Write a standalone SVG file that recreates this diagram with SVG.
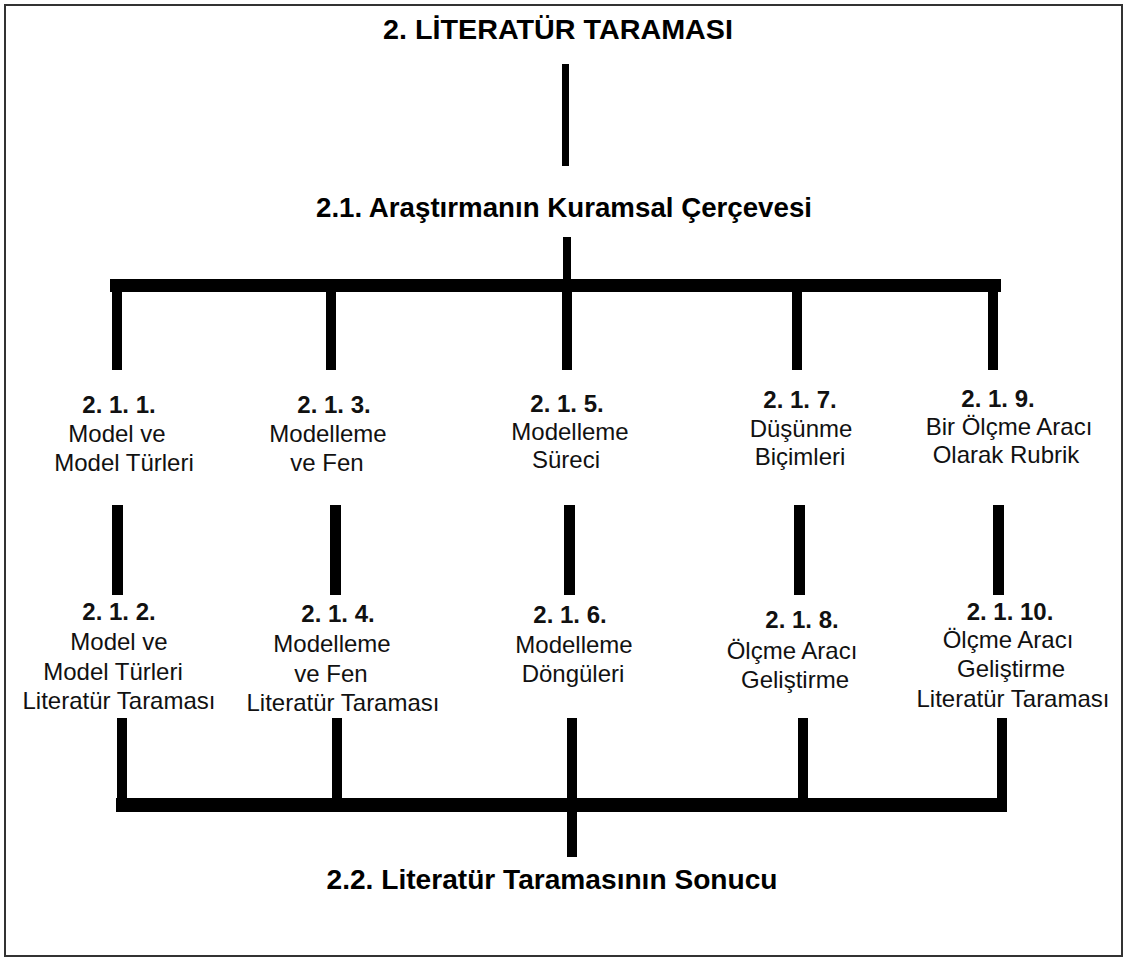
<svg xmlns="http://www.w3.org/2000/svg" width="1127" height="961" viewBox="0 0 1127 961">
  <style>
    .head { font-family: "Liberation Sans", Arial, sans-serif; font-weight: bold; font-size: 28px; fill: #000; text-anchor: middle; }
    .num { font-family: "Liberation Sans", Arial, sans-serif; font-weight: bold; font-size: 24px; fill: #111; text-anchor: middle; }
    .lbl { font-family: "Liberation Sans", Arial, sans-serif; font-size: 24px; fill: #111; text-anchor: middle; }
    .bar { fill: #000; }
  </style>
  <rect x="0" y="0" width="1127" height="961" fill="#fff"/>
  <rect x="5" y="5" width="1117" height="951" fill="none" stroke="#333" stroke-width="2"/>

  <g id="connectors">
    <!-- trunk under the chapter title -->
    <rect class="bar" x="562" y="64" width="7" height="102"/>
    <!-- fan-out from 2.1 to the five topics -->
    <rect class="bar" x="563" y="237" width="8" height="50"/>
    <rect class="bar" x="110" y="279" width="891" height="13"/>
    <rect class="bar" x="112" y="285" width="10" height="85"/>
    <rect class="bar" x="326" y="285" width="10" height="85"/>
    <rect class="bar" x="562" y="285" width="10" height="85"/>
    <rect class="bar" x="792" y="285" width="10" height="85"/>
    <rect class="bar" x="988" y="285" width="10" height="85"/>
    <!-- topic to sub-topic links -->
    <rect class="bar" x="112" y="505" width="11" height="90"/>
    <rect class="bar" x="330" y="505" width="11" height="90"/>
    <rect class="bar" x="564" y="505" width="11" height="90"/>
    <rect class="bar" x="794" y="505" width="11" height="90"/>
    <rect class="bar" x="993" y="505" width="11" height="90"/>
    <!-- merge into 2.2 -->
    <rect class="bar" x="117" y="718" width="10" height="90"/>
    <rect class="bar" x="332" y="718" width="10" height="90"/>
    <rect class="bar" x="567" y="718" width="10" height="90"/>
    <rect class="bar" x="798" y="718" width="10" height="90"/>
    <rect class="bar" x="997" y="718" width="10" height="90"/>
    <rect class="bar" x="116" y="798" width="891" height="14"/>
    <rect class="bar" x="567" y="805" width="10" height="52"/>
  </g>

  <g id="n-root"><text class="head" x="558" y="39" textLength="350" lengthAdjust="spacingAndGlyphs">2. LİTERATÜR TARAMASI</text></g>
  <g id="n-2-1"><text class="head" x="564" y="217" textLength="496" lengthAdjust="spacingAndGlyphs">2.1. Araştırmanın Kuramsal Çerçevesi</text></g>

  <g id="n-2-1-1">
    <text class="num" x="119" y="413">2. 1. 1.</text>
    <text class="lbl" x="117" y="442">Model ve</text>
    <text class="lbl" x="124" y="471">Model Türleri</text>
  </g>
  <g id="n-2-1-3">
    <text class="num" x="334" y="413">2. 1. 3.</text>
    <text class="lbl" x="328" y="442">Modelleme</text>
    <text class="lbl" x="327" y="471">ve Fen</text>
  </g>
  <g id="n-2-1-5">
    <text class="num" x="567" y="412">2. 1. 5.</text>
    <text class="lbl" x="570" y="440">Modelleme</text>
    <text class="lbl" x="566" y="468">Süreci</text>
  </g>
  <g id="n-2-1-7">
    <text class="num" x="800" y="408">2. 1. 7.</text>
    <text class="lbl" x="801" y="437">Düşünme</text>
    <text class="lbl" x="800" y="465">Biçimleri</text>
  </g>
  <g id="n-2-1-9">
    <text class="num" x="998" y="407">2. 1. 9.</text>
    <text class="lbl" x="1009" y="435">Bir Ölçme Aracı</text>
    <text class="lbl" x="1006" y="463">Olarak Rubrik</text>
  </g>

  <g id="n-2-1-2">
    <text class="num" x="119" y="620">2. 1. 2.</text>
    <text class="lbl" x="119" y="650">Model ve</text>
    <text class="lbl" x="113" y="680">Model Türleri</text>
    <text class="lbl" x="119" y="709">Literatür Taraması</text>
  </g>
  <g id="n-2-1-4">
    <text class="num" x="338" y="622">2. 1. 4.</text>
    <text class="lbl" x="332" y="652">Modelleme</text>
    <text class="lbl" x="331" y="682">ve Fen</text>
    <text class="lbl" x="343" y="711">Literatür Taraması</text>
  </g>
  <g id="n-2-1-6">
    <text class="num" x="570" y="623">2. 1. 6.</text>
    <text class="lbl" x="574" y="653">Modelleme</text>
    <text class="lbl" x="573" y="682">Döngüleri</text>
  </g>
  <g id="n-2-1-8">
    <text class="num" x="802" y="628">2. 1. 8.</text>
    <text class="lbl" x="792" y="659">Ölçme Aracı</text>
    <text class="lbl" x="795" y="688">Geliştirme</text>
  </g>
  <g id="n-2-1-10">
    <text class="num" x="1010" y="620">2. 1. 10.</text>
    <text class="lbl" x="1008" y="648">Ölçme Aracı</text>
    <text class="lbl" x="1011" y="677">Geliştirme</text>
    <text class="lbl" x="1013" y="707">Literatür Taraması</text>
  </g>

  <g id="n-2-2"><text class="head" x="552" y="889" textLength="451" lengthAdjust="spacingAndGlyphs">2.2. Literatür Taramasının Sonucu</text></g>
</svg>
